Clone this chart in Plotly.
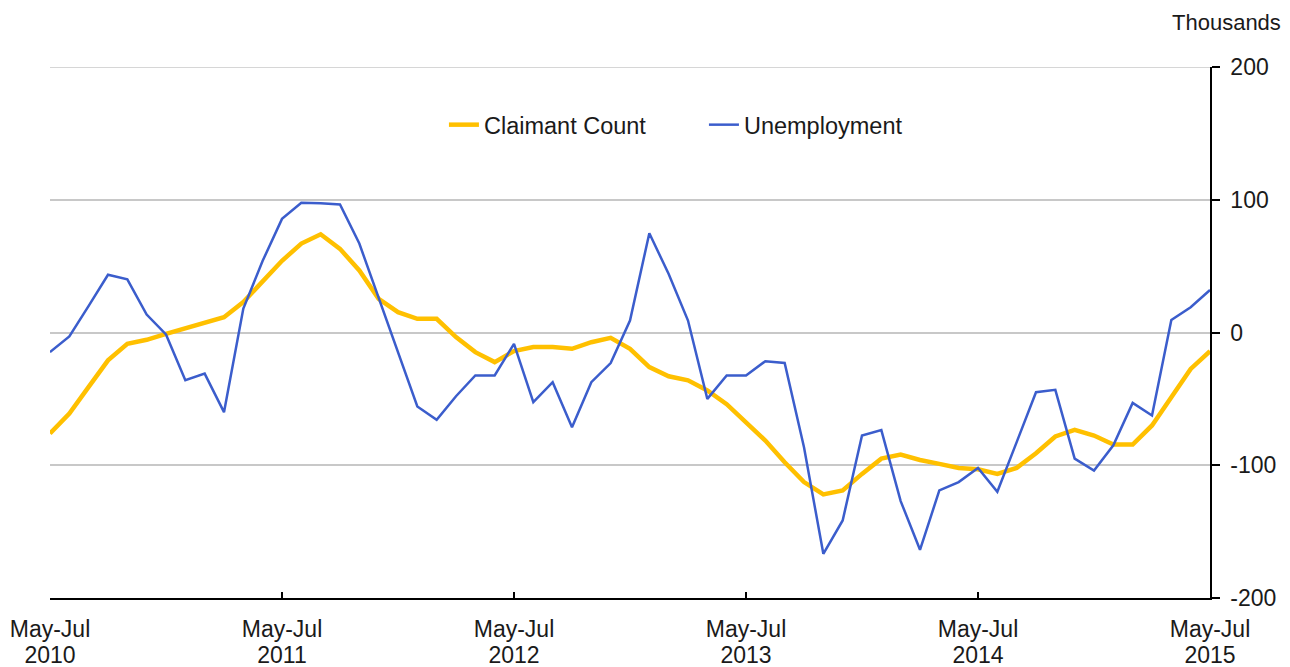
import plotly.graph_objects as go

months = ["Jan", "Feb", "Mar", "Apr", "May", "Jun", "Jul", "Aug", "Sep", "Oct", "Nov", "Dec"]
periods = []
for k in range(61):
    m = 4 + k
    y0 = 2010 + m // 12
    m2 = m + 2
    periods.append(f"{months[m % 12]}-{months[m2 % 12]} {y0 + (m2 // 12 - m // 12)}")

tick_periods = ["May-Jul 2010", "May-Jul 2011", "May-Jul 2012", "May-Jul 2013", "May-Jul 2014", "May-Jul 2015"]
tick_months = ["May-Jul", "May-Jul", "May-Jul", "May-Jul", "May-Jul", "May-Jul"]
tick_years = ["2010", "2011", "2012", "2013", "2014", "2015"]

claimant_count = [
    -76, -61, -41, -21, -8.5, -5.5, -1, 3.3, 7, 11.5,
    23, 38, 54, 67, 74, 63, 46.7, 25.4, 15.3, 10.3,
    10.3, -3.5, -14.8, -22.3, -14, -11, -11, -12.3, -7.3, -4,
    -12.3, -26, -33, -36, -43.7, -54, -67.5, -81.4, -97.7, -112.7,
    -122, -119, -106.5, -95, -92, -96, -99, -102, -103, -106.5,
    -102, -91, -78.3, -73.3, -77.6, -84.4, -84.4, -70, -48.7, -27.4,
    -14,
]

unemployment = [
    -14.8, -3, 20, 43.5, 40, 13.5, -1.5, -36, -31, -60,
    18, 54, 85.6, 97.7, 97.4, 96.4, 67, 26, -15, -55.7,
    -65.8, -48, -32.4, -32.4, -8.5, -52.5, -37.4, -71.3, -37.4, -23,
    9, 74.8, 44, 9, -50, -32.4, -32.4, -21.6, -23, -86.4,
    -166.7, -141.6, -77.6, -73.5, -127, -163.7, -119, -112.7, -102, -120,
    -82.6, -45, -43.2, -95, -104, -85, -53, -62.5, 9.5, 19,
    32,
]

y_ticks = [200, 100, 0, -100, -200]
y_tick_labels = ["200", "100", "0", "-100", "-200"]

FONT = "Liberation Sans, Arial, sans-serif"
TXT = "#1a1a1a"

fig = go.Figure()
fig.add_trace(go.Scatter(
    x=periods, y=claimant_count, name="Claimant Count", mode="lines",
    line=dict(color="#FFC000", width=4.5),
))
fig.add_trace(go.Scatter(
    x=periods, y=unemployment, name="Unemployment", mode="lines",
    line=dict(color="#3B5DCC", width=2.5),
))
# carrier for the second (year) row of x tick labels
fig.add_trace(go.Scatter(
    x=periods, y=unemployment, xaxis="x2", mode="lines",
    line=dict(width=0), opacity=0, showlegend=False, hoverinfo="skip",
))

fig.update_layout(
    width=1282, height=659,
    margin=dict(l=42, r=80, t=59, b=69),
    paper_bgcolor="white", plot_bgcolor="white",
    font=dict(family=FONT, size=23, color=TXT),
    showlegend=True,
    legend=dict(
        orientation="h", x=0.3396, xanchor="left", y=0.891, yanchor="middle",
        bgcolor="rgba(0,0,0,0)", font=dict(size=23.5, color=TXT),
        entrywidth=215, entrywidthmode="pixels",
    ),
    xaxis=dict(
        type="category", categoryorder="array", categoryarray=periods,
        range=[0, 60], automargin=False,
        tickvals=tick_periods, ticktext=tick_months,
        showline=True, linecolor="black", linewidth=1.5,
        ticks="inside", ticklen=6, tickcolor="black", tickwidth=1.5,
        showgrid=False, zeroline=False,
        ticklabelstandoff=10,
        tickfont=dict(size=23, color=TXT),
    ),
    xaxis2=dict(
        type="category", categoryorder="array", categoryarray=periods,
        range=[0, 60], automargin=False,
        overlaying="x", side="bottom", anchor="y",
        tickvals=tick_periods, ticktext=tick_years,
        showline=False, ticks="", showgrid=False, zeroline=False,
        ticklabelstandoff=41,
        tickfont=dict(size=23, color=TXT),
    ),
    yaxis=dict(
        side="right", range=[-200, 200], automargin=False,
        tickvals=y_ticks, ticktext=y_tick_labels,
        showline=True, linecolor="black", linewidth=1.5,
        ticks="outside", ticklen=8, tickcolor="black", tickwidth=1.5,
        showgrid=True, gridcolor="#c8c8c8", gridwidth=1.5,
        zeroline=False,
        ticklabelstandoff=6,
        tickfont=dict(size=23, color=TXT),
    ),
    shapes=[dict(
        type="line", xref="paper", yref="y", x0=0, x1=1,
        y0=max(y_ticks), y1=max(y_ticks),
        line=dict(color="#c8c8c8", width=1.5), layer="below",
    )],
    annotations=[dict(
        text="Thousands", xref="paper", yref="paper",
        x=1.0629, y=1.0847, xanchor="right", yanchor="middle",
        showarrow=False, font=dict(size=22, color=TXT),
    )],
)

fig.write_html("out.html")
